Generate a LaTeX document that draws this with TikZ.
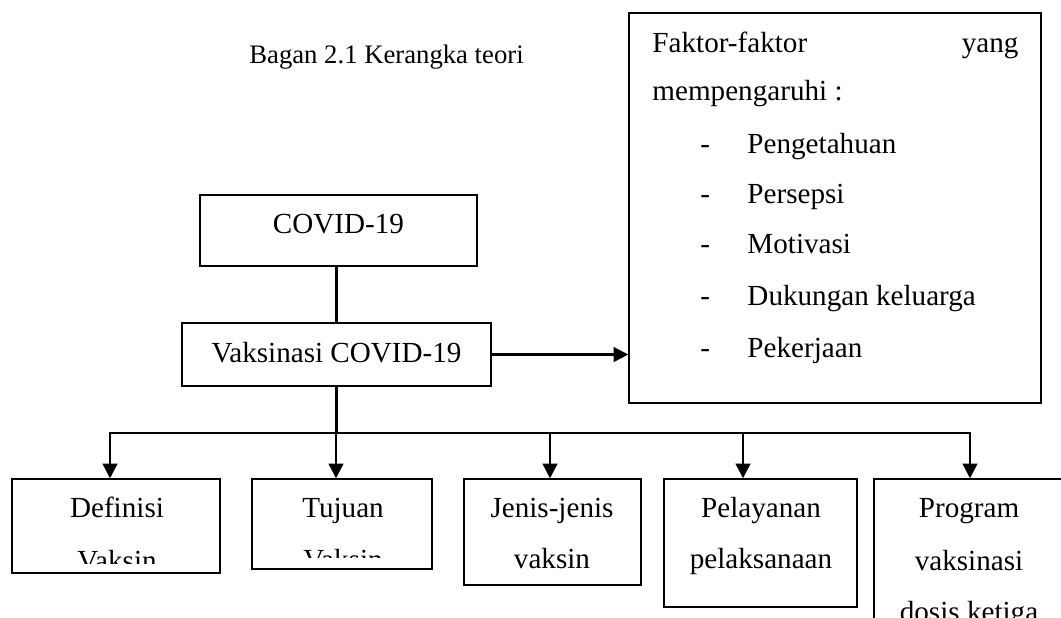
\documentclass[tikz,border=0pt]{standalone}
\usepackage{fontspec}
\setmainfont{Liberation Serif}
\usepackage{tikz}
\usetikzlibrary{arrows.meta,positioning}

\begin{document}
\begin{tikzpicture}[x=0.412pt, y=-0.412pt,
  box/.style 2 args={rectangle, draw, line width=0.6pt, inner sep=0pt, minimum width=#1*0.412pt, minimum height=#2*0.412pt},
  txt/.style={inner sep=0pt, anchor=base, font=\fontsize{12}{14}\selectfont},
  line/.style={line width=0.95pt},
  arrow/.style={line width=0.95pt, -{Triangle[width=6pt,length=6pt]}}
]
\useasboundingbox (0,0) rectangle (1061,617);
\clip (0,0) rectangle (1061,617);

\node[txt, font=\fontsize{11}{13}\selectfont] (title) at (386.5,63) {Bagan 2.1 Kerangka teori};

\node[box={412}{390}] (faktor) at (835,208) {};
\node[box={277}{71}] (covid) at (338.5,230.5) {};
\node[box={309}{63}] (vaksinasi) at (336.5,354.5) {};
\node[box={208}{94}] (definisi) at (116,526) {};
\node[box={180}{90}] (tujuan) at (342,524) {};
\node[box={177}{106}] (jenis) at (552.5,532) {};
\node[box={193}{128}] (pelayanan) at (760.5,543) {};
\node[box={192}{201}] (program) at (970,579.5) {};

\node[txt] (covidtxt) at (338.5,233) {COVID-19};
\node[txt] (vaksinasitxt) at (336.5,362) {Vaksinasi COVID-19};

\node[txt, anchor=base west] (faktortxt) at (652,52) {Faktor-faktor};
\node[txt, anchor=base east] (yangtxt) at (1019,52) {yang};
\node[txt, anchor=base west] (pengaruhtxt) at (652,100) {mempengaruhi :};
\foreach \y/\f [count=\i] in {153/Pengetahuan, 203/Persepsi, 253/Motivasi, 305/Dukungan keluarga, 357/Pekerjaan} {
  \node[txt, anchor=base west] (dash\i) at (700,\y) {-};
  \node[txt, anchor=base west] (faktor\i) at (747,\y) {\f};
}

\node[txt] (definisi1) at (117,517) {Definisi};
\node[txt] (tujuan1) at (343,517) {Tujuan};
\node[txt] (jenis1) at (552,517) {Jenis-jenis};
\node[txt] (jenis2) at (552,568) {vaksin};
\node[txt] (pelayanan1) at (761,517) {Pelayanan};
\node[txt] (pelayanan2) at (761,568) {pelaksanaan};
\node[txt] (program1) at (969,517) {Program};
\node[txt] (program2) at (969,570) {vaksinasi};
\node[txt] (program3) at (969,621) {dosis ketiga};
\begin{scope}
  \clip (12,479) rectangle (220,563);
  \node[txt] (definisi2) at (117,570) {Vaksin};
\end{scope}
\begin{scope}
  \clip (252,479) rectangle (432,557);
  \node[txt] (tujuan2) at (343,569) {Vaksin};
\end{scope}

\draw[line] (vaksinasi.north) -- (vaksinasi.north |- covid.south);
\draw[arrow] (vaksinasi.east) -- (vaksinasi.east -| faktor.west);
\coordinate (busl) at (110,433);
\coordinate (busr) at (970,433);
\draw[line] (vaksinasi.south) -- (vaksinasi.south |- busl);
\draw[line, line cap=rect] (busl) -- (busr);
\foreach \x/\b in {110/definisi, 336/tujuan, 550/jenis, 743/pelayanan, 970/program} {
  \coordinate (to\b) at (\x,433);
  \draw[arrow] (to\b) -- (to\b |- \b.north);
}
\end{tikzpicture}
\end{document}
